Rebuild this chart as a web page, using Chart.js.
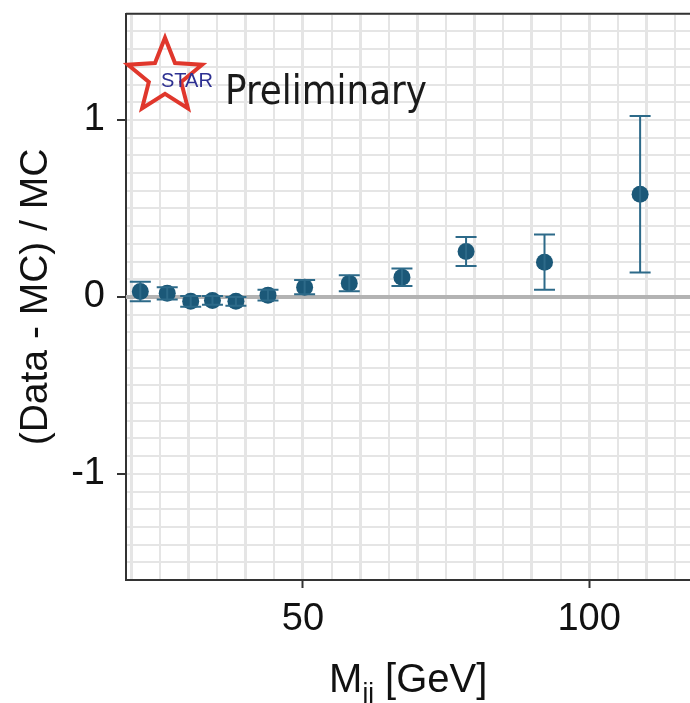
<!DOCTYPE html>
<html>
<head>
<meta charset="utf-8">
<script src="https://cdn.jsdelivr.net/npm/chart.js@4.4.1/dist/chart.umd.min.js"></script>
<style>
  html, body { margin: 0; padding: 0; background: #fff; overflow: hidden; }
  #wrap { width: 690px; height: 703px; position: relative; }
</style>
</head>
<body>
<div id="wrap"><canvas id="c"></canvas></div>
<script>
// M_jj bin centres [GeV], (Data - MC)/MC and its error
const mjj   = [21.6, 26.3, 30.4, 34.2, 38.3, 43.9, 50.3, 58.1, 67.3, 78.5, 92.2, 108.9];
const ratio = [0.03, 0.02, -0.025, -0.02, -0.025, 0.01, 0.055, 0.077, 0.111, 0.256, 0.196, 0.58];
const err   = [0.055, 0.035, 0.03, 0.025, 0.025, 0.03, 0.04, 0.045, 0.05, 0.082, 0.156, 0.442];

const xTickLabels = [50, 100];
const yTickLabels = [-1, 0, 1];

const FONT = "'Liberation Sans', Arial, Helvetica, sans-serif";
const DOT = '#1b5878';
const BAR = '#2d6a89';
const GRID = '#e5e5e5';

// wanted plot area inside the 690x703 window (right side runs off the edge like the original)
const AREA_TOP = 14, AREA_RIGHT = 690;

// grid every 5 GeV and every 0.1 in ratio
const xGrid = [];
for (let v = 20; v <= 115; v += 5) xGrid.push(v);
const yGrid = [];
for (let i = -16; i <= 16; i++) yGrid.push(i / 10);

const overlay = {
  id: 'overlay',
  beforeDatasetsDraw(chart) {
    const { ctx, chartArea: a, scales: { y } } = chart;
    ctx.save();
    const y0 = y.getPixelForValue(0);
    ctx.strokeStyle = '#b3b3b3';
    ctx.lineWidth = 4;
    ctx.beginPath(); ctx.moveTo(a.left, y0); ctx.lineTo(a.right, y0); ctx.stroke();
    ctx.strokeStyle = '#333';
    ctx.lineWidth = 2;
    ctx.beginPath(); ctx.moveTo(a.left, a.top); ctx.lineTo(a.right, a.top); ctx.stroke();
    ctx.restore();
  },
  afterDatasetsDraw(chart) {
    const { ctx, scales: { x, y } } = chart;
    ctx.save();
    ctx.strokeStyle = BAR;
    ctx.lineWidth = 2;
    mjj.forEach((m, i) => {
      const px = x.getPixelForValue(m);
      const hi = y.getPixelForValue(ratio[i] + err[i]);
      const lo = y.getPixelForValue(ratio[i] - err[i]);
      ctx.beginPath();
      ctx.moveTo(px, hi); ctx.lineTo(px, lo);
      ctx.moveTo(px - 10.5, hi); ctx.lineTo(px + 10.5, hi);
      ctx.moveTo(px - 10.5, lo); ctx.lineTo(px + 10.5, lo);
      ctx.stroke();
    });
    ctx.restore();
  },
  afterDraw(chart) {
    const { ctx, chartArea: a } = chart;
    ctx.save();

    // STAR logo: red outlined star
    const cx = a.left + 39, cy = a.top + 63, R = 39, r = 17;
    ctx.beginPath();
    for (let k = 0; k < 10; k++) {
      const ang = -Math.PI / 2 + k * Math.PI / 5;
      const rad = k % 2 ? r : R;
      const px = cx + rad * Math.cos(ang), py = cy + rad * Math.sin(ang);
      k ? ctx.lineTo(px, py) : ctx.moveTo(px, py);
    }
    ctx.closePath();
    ctx.strokeStyle = '#e0372c';
    ctx.lineWidth = 4;
    ctx.lineJoin = 'miter';
    ctx.stroke();

    ctx.fillStyle = '#2e3192';
    ctx.font = '20px ' + FONT;
    ctx.textAlign = 'left';
    ctx.textBaseline = 'alphabetic';
    ctx.fillText('STAR', a.left + 35, a.top + 73, 52);

    ctx.fillStyle = '#1a1a1a';
    ctx.font = "40px 'DejaVu Sans', Verdana, sans-serif";
    ctx.fillText('Preliminary', a.left + 99, a.top + 90, 202);

    // x axis title with subscript
    const main = '40px ' + FONT, sub = '26px ' + FONT;
    ctx.font = main; const wM = ctx.measureText('M').width; const wT = ctx.measureText(' [GeV]').width;
    ctx.font = sub; const wS = ctx.measureText('jj').width;
    let tx = (a.left + a.right) / 2 - (wM + wS + wT) / 2;
    const base = a.bottom + 112;
    ctx.fillStyle = '#111';
    ctx.font = main; ctx.fillText('M', tx, base); tx += wM;
    ctx.font = sub; ctx.fillText('jj', tx, base + 9); tx += wS;
    ctx.font = main; ctx.fillText(' [GeV]', tx, base);
    ctx.restore();
  }
};

const chart = new Chart(document.getElementById('c'), {
  type: 'scatter',
  data: {
    datasets: [{
      data: mjj.map((m, i) => ({ x: m, y: ratio[i] })),
      backgroundColor: DOT,
      borderWidth: 0,
      pointRadius: 8.5,
      pointHoverRadius: 8.5
    }]
  },
  plugins: [overlay],
  options: {
    responsive: true,
    maintainAspectRatio: false,
    animation: false,
    layout: { padding: 0 },
    plugins: { legend: { display: false }, tooltip: { enabled: false } },
    scales: {
      x: {
        type: 'linear',
        min: 19.1, max: 117.7,
        afterBuildTicks: s => { s.ticks = xGrid.map(v => ({ value: v })); },
        afterFit: s => { s.height = 123; },
        ticks: {
          autoSkip: false, maxRotation: 0, padding: 9,
          color: '#111', font: { family: FONT, size: 38 },
          callback: v => xTickLabels.includes(v) ? String(v) : ''
        },
        grid: {
          color: GRID,
          lineWidth: c => (c.tick && c.tick.value % 10 === 0) ? 3 : 2,
          tickLength: 8, tickWidth: 2,
          tickColor: c => (c.tick && xTickLabels.includes(c.tick.value)) ? '#333' : 'rgba(0,0,0,0)'
        },
        border: { display: true, color: '#333', width: 2 }
      },
      y: {
        type: 'linear',
        min: -1.6, max: 1.6,
        afterBuildTicks: s => { s.ticks = yGrid.map(v => ({ value: v })); },
        afterFit: s => { s.width = 126; },
        ticks: {
          autoSkip: false, padding: 12,
          color: '#111', font: { family: FONT, size: 38 },
          callback: v => yTickLabels.includes(v) ? String(v) : ''
        },
        grid: {
          color: GRID, lineWidth: 2,
          tickLength: 9, tickWidth: 2,
          tickColor: c => (c.tick && yTickLabels.includes(c.tick.value)) ? '#333' : 'rgba(0,0,0,0)'
        },
        border: { display: true, color: '#333', width: 2 },
        title: {
          display: true, text: '(Data - MC) / MC', color: '#111',
          font: { family: FONT, size: 39, lineHeight: 1.2 },
          padding: { top: 13, bottom: 0 }
        }
      }
    }
  }
});

// Chart.js keeps room for label overflow at the top/right; grow the canvas past the
// window so the plot frame lands where it sits in the original crop.
const wrap = document.getElementById('wrap');
const extraTop = Math.round(chart.chartArea.top - AREA_TOP);
const extraRight = Math.round(AREA_RIGHT + (690 - chart.chartArea.right) - 690);
wrap.style.marginTop = (-extraTop) + 'px';
wrap.style.height = (703 + extraTop) + 'px';
wrap.style.width = (690 + extraRight) + 'px';
chart.resize();
</script>
</body>
</html>
